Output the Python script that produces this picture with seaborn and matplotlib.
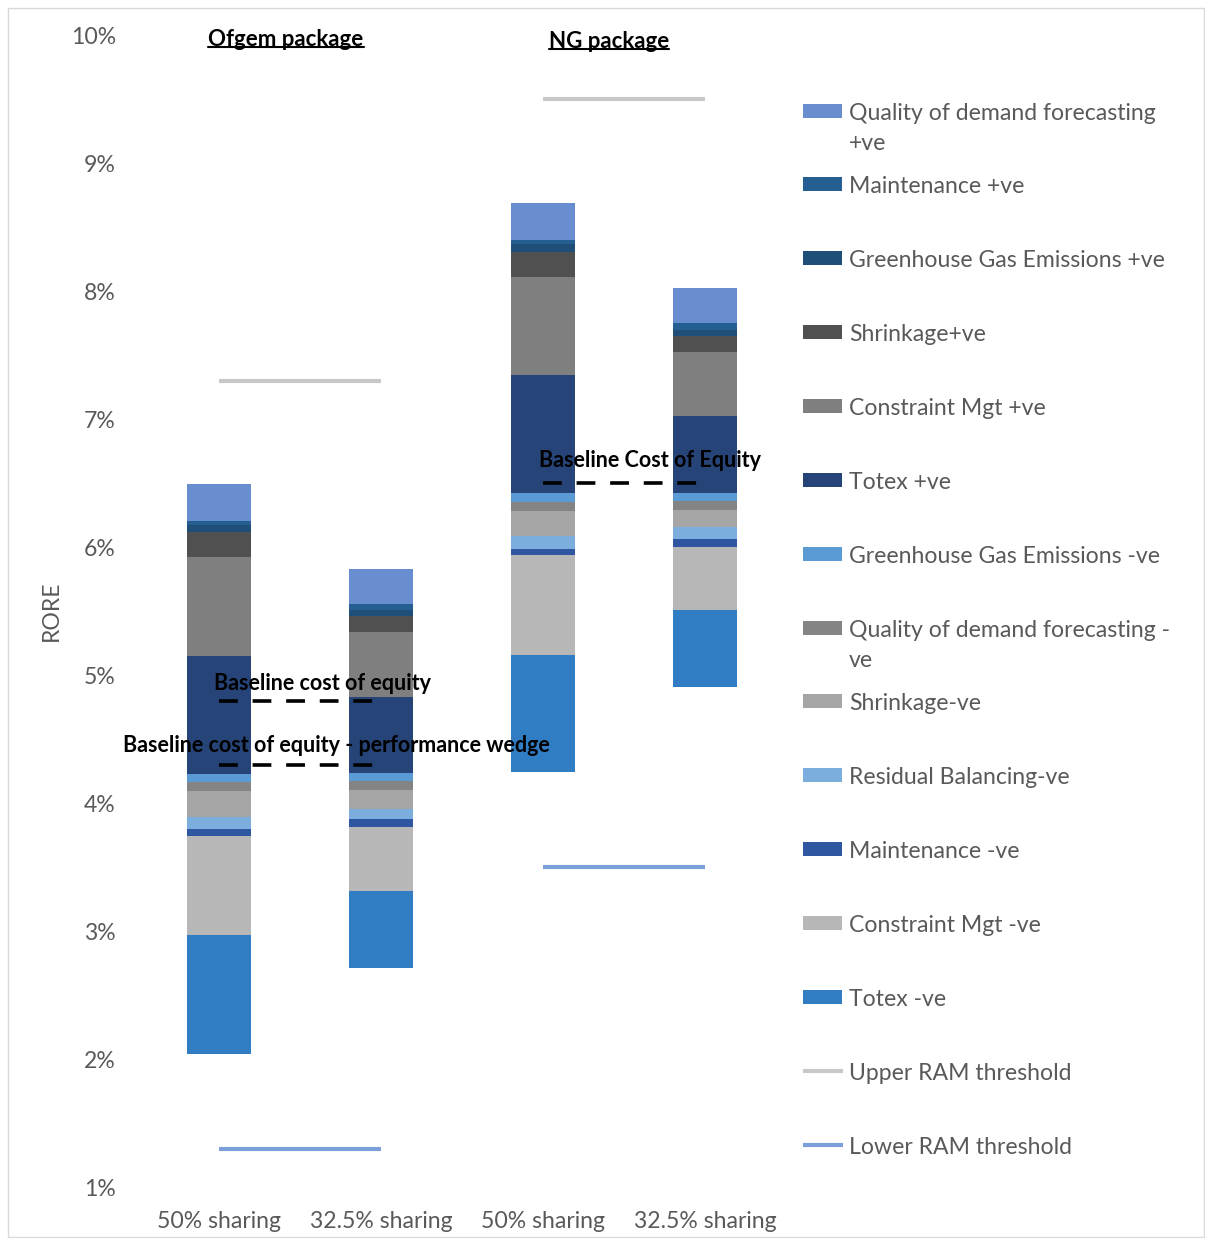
import numpy as np
import pandas as pd
import seaborn as sns
import matplotlib.pyplot as plt
from matplotlib.patches import Rectangle
from matplotlib.lines import Line2D

# categories (unique keys + shown tick labels)
categories = ["Ofgem 50%", "Ofgem 32.5%", "NG 50%", "NG 32.5%"]
tick_labels = ["50% sharing", "32.5% sharing", "50% sharing", "32.5% sharing"]

# stacked series, bottom -> top (values in % RORE)
base = [2.04, 2.71, 4.24, 4.91]
totex_neg = [0.93, 0.60, 0.92, 0.60]
constraint_neg = [0.77, 0.50, 0.78, 0.49]
maint_neg = [0.055, 0.062, 0.045, 0.06]
residual_neg = [0.093, 0.083, 0.104, 0.096]
shrinkage_neg = [0.204, 0.144, 0.196, 0.134]
qodf_neg = [0.07, 0.07, 0.07, 0.07]
ghg_neg = [0.063, 0.063, 0.07, 0.06]
totex_pos = [0.92, 0.593, 0.92, 0.60]
constraint_pos = [0.774, 0.508, 0.767, 0.50]
shrinkage_pos = [0.195, 0.125, 0.193, 0.125]
ghg_pos = [0.055, 0.047, 0.06, 0.047]
maint_pos = [0.031, 0.047, 0.036, 0.055]
qodf_pos = [0.289, 0.273, 0.289, 0.273]

# lines
upper_ram = [7.3, 7.3, 9.5, 9.5]
lower_ram = [1.3, 1.3, 3.5, 3.5]
coe_ofgem = [4.8, 4.8]
coe_wedge_ofgem = [4.3, 4.3]
coe_ng = [6.5, 6.5]

layers = [
    ("Totex -ve", totex_neg, "#317DC3"),
    ("Constraint Mgt -ve", constraint_neg, "#B7B7B7"),
    ("Maintenance -ve", maint_neg, "#2F56A0"),
    ("Residual Balancing-ve", residual_neg, "#7CAEDD"),
    ("Shrinkage-ve", shrinkage_neg, "#A5A5A5"),
    ("Quality of demand forecasting -\nve", qodf_neg, "#848484"),
    ("Greenhouse Gas Emissions -ve", ghg_neg, "#5B9BD5"),
    ("Totex +ve", totex_pos, "#264478"),
    ("Constraint Mgt +ve", constraint_pos, "#7F7F7F"),
    ("Shrinkage+ve", shrinkage_pos, "#505050"),
    ("Greenhouse Gas Emissions +ve", ghg_pos, "#1F4E79"),
    ("Maintenance +ve", maint_pos, "#255E91"),
    ("Quality of demand forecasting\n+ve", qodf_pos, "#698ED0"),
]
upper_color = "#C8C8C8"
lower_color = "#7B9FD8"
grey_txt = "#595959"

sns.set_theme(style="white")
plt.rcParams['font.family'] = ['Lato', 'DejaVu Sans']

W, H = 1205, 1238
fig = plt.figure(figsize=(W / 100, H / 100), dpi=100)
ax = fig.add_axes([138 / W, 1 - 1187 / H, 648 / W, 1152 / H])


def fxy(x, y):
    return x / W, 1 - y / H


# stacked floating bars
bottom = np.array(base, dtype=float)
for name, vals, col in layers:
    sns.barplot(x=categories, y=vals, order=categories, color=col, saturation=1,
                width=0.4, errorbar=None, linewidth=0, edgecolor="none",
                bottom=bottom.copy(), ax=ax)
    bottom = bottom + np.array(vals)

# RAM thresholds
for seg in [(0, 1), (2, 3)]:
    xs = list(seg)
    ax.plot(xs, [upper_ram[i] for i in xs], color=upper_color, lw=3, solid_capstyle="butt")
    ax.plot(xs, [lower_ram[i] for i in xs], color=lower_color, lw=3, solid_capstyle="butt")

# cost of equity dashed lines
dash_kw = dict(color="black", lw=2.6, dashes=(5.2, 4.1), dash_capstyle="butt")
ax.plot([0, 1], coe_ofgem, **dash_kw)
ax.plot([0, 1], coe_wedge_ofgem, **dash_kw)
ax.plot([2, 3], coe_ng, **dash_kw)

lab_kw = dict(fontsize=15.5, fontweight="bold", color="black", ha="center", va="center")
ax.text(0.637, 4.935, "Baseline cost of equity", **lab_kw)
ax.text(0.725, 4.45, "Baseline cost of equity - performance wedge", **lab_kw)
ax.text(2.659, 6.675, "Baseline Cost of Equity", **lab_kw)

# axes styling
ax.set_xlim(-0.5, 3.5)
ax.set_ylim(1, 10)
ax.set_yticks(range(1, 11))
ax.set_yticklabels([f"{v}%" for v in range(1, 11)])
ax.set_xticks(range(4))
ax.set_xticklabels(tick_labels)
ax.tick_params(axis="y", length=0, pad=16, labelsize=16.6, labelcolor=grey_txt)
ax.tick_params(axis="x", length=0, pad=17, labelsize=16.6, labelcolor=grey_txt)
for s in ax.spines.values():
    s.set_visible(False)
ax.set_xlabel("")
ax.set_ylabel("RORE", fontsize=16.6, color=grey_txt)
ax.yaxis.set_label_coords((62 - 138) / 648, 0.5)
ax.patch.set_alpha(0)

# package headings (underlined)
heads = []
for txt, x, y in [("Ofgem package", 286, 45.5), ("NG package", 609, 47.5)]:
    t = fig.text(*fxy(x, y), txt, fontsize=16, fontweight="bold", color="black",
                 ha="center", va="baseline")
    heads.append((t, y))

# legend (drawn by hand to keep the fixed slot layout)
legend_items = [(n, c, "patch") for n, v, c in layers[::-1]]
legend_items += [("Upper RAM threshold", upper_color, "line"),
                 ("Lower RAM threshold", lower_color, "line")]
for i, (name, col, kind) in enumerate(legend_items):
    yc = 110.5 + i * 73.86
    if kind == "patch":
        x0, y0 = fxy(803, yc + 7)
        fig.patches.append(Rectangle((x0, y0), 39 / W, 14 / H, transform=fig.transFigure,
                                     facecolor=col, edgecolor="none"))
    else:
        fig.lines.append(Line2D([803 / W, 843 / W], [1 - yc / H] * 2, transform=fig.transFigure,
                                color=col, lw=3, solid_capstyle="butt"))
    for j, line in enumerate(name.split("\n")):
        fig.text(*fxy(849, yc + 2.5 + j * 30), line, fontsize=16.6, color=grey_txt,
                 ha="left", va="center")

# outer chart border
fig.patches.append(Rectangle(fxy(8, 1237), 1196 / W, 1229 / H, transform=fig.transFigure,
                             facecolor="none", edgecolor="#D9D9D9", lw=1))

fig.canvas.draw()
r = fig.canvas.get_renderer()
for t, y in heads:
    bb = t.get_window_extent(r)
    yy = 1 - (y + 1.5) / H
    fig.lines.append(Line2D([bb.x0 / W, bb.x1 / W], [yy, yy], transform=fig.transFigure,
                            color="black", lw=1.5))

fig.savefig("out.png", dpi=100)
